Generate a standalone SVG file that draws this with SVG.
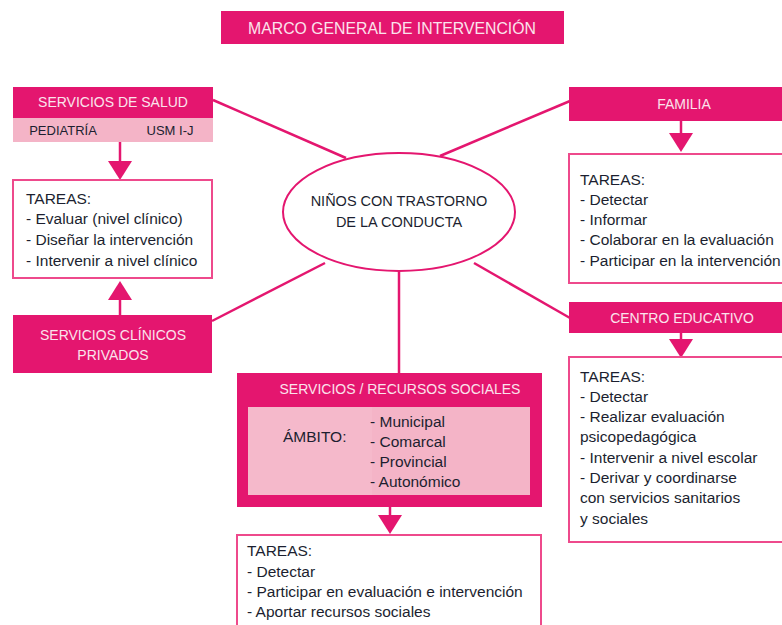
<svg xmlns="http://www.w3.org/2000/svg" width="782" height="625" viewBox="0 0 782 625">
<style>
.hdr{fill:#e4166f}
.lt{fill:#f4b4c7}
.tbox{fill:#ffffff;stroke:#ee4a8c;stroke-width:2}
.ht{font-family:"Liberation Sans",Arial,sans-serif;font-size:14px;fill:#fbe3ec;text-anchor:middle}
.t{font-family:"Liberation Sans",Arial,sans-serif;font-size:15.5px;fill:#1c1f30}
.c{text-anchor:middle}
.con{stroke:#e4166f;stroke-width:2.5;fill:none}
</style>
<rect width="782" height="625" fill="#ffffff"/>

<g id="connectors">
<line class="con" x1="213" y1="100" x2="346" y2="158"/>
<line class="con" x1="570" y1="101" x2="440" y2="156"/>
<line class="con" x1="212" y1="321" x2="325" y2="263"/>
<line class="con" x1="570" y1="318" x2="474" y2="263"/>
<line class="con" x1="399" y1="272" x2="399" y2="373"/>
<line class="con" x1="120" y1="118" x2="120" y2="162"/>
<path d="M108,161 L132,161 L120,180 Z" fill="#e4166f"/>
<line class="con" x1="120" y1="315" x2="120" y2="298"/>
<path d="M108,300 L132,300 L120,281 Z" fill="#e4166f"/>
<line class="con" x1="681" y1="121" x2="681" y2="134"/>
<path d="M669,133 L693,133 L681,152 Z" fill="#e4166f"/>
<line class="con" x1="681" y1="333" x2="681" y2="340"/>
<path d="M669,339 L693,339 L681,358 Z" fill="#e4166f"/>
<line class="con" x1="390" y1="507" x2="390" y2="516"/>
<path d="M378,515 L402,515 L390,534 Z" fill="#e4166f"/>
</g>

<g id="title">
<rect class="hdr" x="221" y="11" width="343" height="33"/>
<text class="ht" x="392" y="33.500" style="font-size:15.8px">MARCO GENERAL DE INTERVENCIÓN</text>
</g>

<g id="servicios-salud">
<rect class="hdr" x="13" y="87" width="200" height="31"/>
<text class="ht" x="113" y="107">SERVICIOS DE SALUD</text>
<rect class="lt" x="13" y="118" width="200" height="24"/>
<text class="t c" x="63" y="135" style="font-size:13px">PEDIATRÍA</text>
<text class="t c" x="170" y="135" style="font-size:13px">USM I-J</text>
</g>

<g id="tareas-salud">
<rect class="tbox" x="13" y="180" width="199" height="98"/>
<text class="t" x="26" y="204">TAREAS:</text>
<text class="t" x="26" y="224">- Evaluar (nivel clínico)</text>
<text class="t" x="26" y="245">- Diseñar la intervención</text>
<text class="t" x="26" y="266">- Intervenir a nivel clínico</text>
</g>

<g id="servicios-clinicos">
<rect class="hdr" x="13" y="315" width="199" height="58"/>
<text class="ht" x="113" y="340">SERVICIOS CLÍNICOS</text>
<text class="ht" x="113" y="360">PRIVADOS</text>
</g>

<g id="ninos">
<ellipse cx="399" cy="212" rx="116" ry="59" fill="#ffffff" stroke="#e4166f" stroke-width="2"/>
<text class="t c" x="399" y="206" style="font-size:14.5px">NIÑOS CON TRASTORNO</text>
<text class="t c" x="399" y="227" style="font-size:14.5px">DE LA CONDUCTA</text>
</g>

<g id="familia">
<rect class="hdr" x="569" y="87" width="215" height="34"/>
<text class="ht" x="684" y="109">FAMILIA</text>
</g>

<g id="tareas-familia">
<rect class="tbox" x="569" y="154" width="216" height="129"/>
<text class="t" x="580" y="185">TAREAS:</text>
<text class="t" x="580" y="205">- Detectar</text>
<text class="t" x="580" y="225">- Informar</text>
<text class="t" x="580" y="245">- Colaborar en la evaluación</text>
<text class="t" x="580" y="266">- Participar en la intervención</text>
</g>

<g id="centro-educativo">
<rect class="hdr" x="569" y="302" width="215" height="31"/>
<text class="ht" x="682" y="323">CENTRO EDUCATIVO</text>
</g>

<g id="tareas-centro">
<rect class="tbox" x="569" y="357" width="216" height="185"/>
<text class="t" x="580" y="382">TAREAS:</text>
<text class="t" x="580" y="402">- Detectar</text>
<text class="t" x="580" y="422">- Realizar evaluación</text>
<text class="t" x="580" y="442">psicopedagógica</text>
<text class="t" x="580" y="463">- Intervenir a nivel escolar</text>
<text class="t" x="580" y="483">- Derivar y coordinarse</text>
<text class="t" x="580" y="503">con servicios sanitarios</text>
<text class="t" x="580" y="524">y sociales</text>
</g>

<g id="servicios-sociales">
<rect class="hdr" x="237" y="373" width="305" height="134"/>
<text class="ht" x="400" y="394">SERVICIOS / RECURSOS SOCIALES</text>
<rect fill="#f5b9cb" x="248" y="407" width="124" height="88"/>
<rect class="lt" x="372" y="407" width="158" height="88"/>
<text class="t" x="283" y="442">ÁMBITO:</text>
<text class="t" x="370" y="427">- Municipal</text>
<text class="t" x="370" y="447">- Comarcal</text>
<text class="t" x="370" y="467">- Provincial</text>
<text class="t" x="370" y="487">- Autonómico</text>
</g>

<g id="tareas-sociales">
<rect class="tbox" x="237" y="535" width="304" height="100"/>
<text class="t" x="247" y="556">TAREAS:</text>
<text class="t" x="247" y="577">- Detectar</text>
<text class="t" x="247" y="597">- Participar en evaluación e intervención</text>
<text class="t" x="247" y="617">- Aportar recursos sociales</text>
</g>
</svg>
